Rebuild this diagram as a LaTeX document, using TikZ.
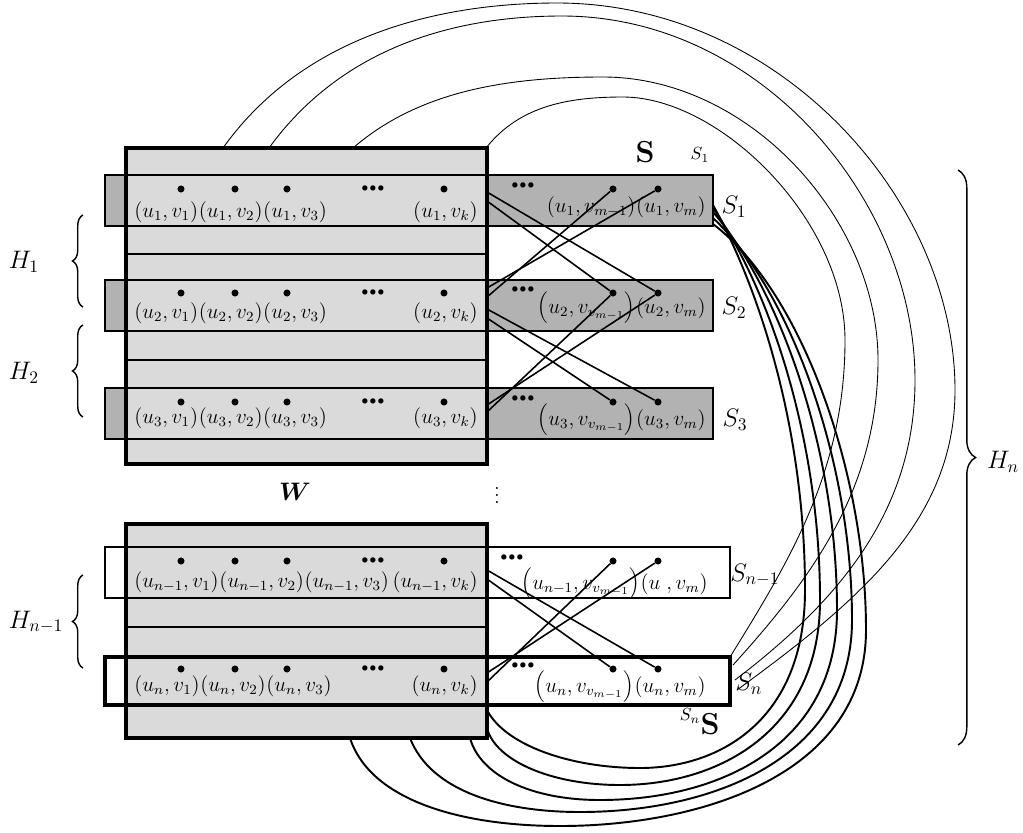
\documentclass[tikz,border=0pt]{standalone}
\usepackage{bm}
\usetikzlibrary{positioning,decorations.pathreplacing}
\definecolor{wgray}{RGB}{218,218,218}
\definecolor{sgray}{RGB}{178,178,178}
\tikzset{
  vtx/.style={circle,fill=black,inner sep=0pt,minimum size=4pt},
  pair/.style={inner sep=0pt,font=\large},
  dotsnode/.style={inner sep=0pt,font=\scriptsize},
  strip/.style={draw=black,line width=1.2pt},
  wbox/.style={draw=black,line width=2pt},
  cross/.style={line width=0.9pt},
  toparc/.style={line width=0.5pt},
  botcurve/.style={line width=1.1pt},
  hbrace/.style={decorate,decoration={brace,amplitude=#1},line width=0.8pt},
  slbl/.style={inner sep=0pt,font=\Large}
}
\begin{document}
\begin{tikzpicture}[x=0.2mm,y=-0.2mm]
\useasboundingbox (0,0) rectangle (1023,832);

% row strips
\foreach \t/\b in {175/226,280/331,388/439}
  \draw[strip,fill=sgray] (105,\t) rectangle (713,\b);
\draw[strip] (105,547) rectangle (730,598);
\draw[strip,line width=1.8pt] (105,657) rectangle (730,705);

% W blocks
\fill[wgray] (126,148) rectangle (487,464);
\fill[wgray] (126,524) rectangle (487,738);
\foreach \y in {175,226,254,280,331,360,388,439,547,598,627}
  \draw[line width=0.8pt] (126,\y) -- (487,\y);
\foreach \y in {657,705}
  \draw[line width=1.8pt] (126,\y) -- (487,\y);
\draw[wbox] (126,148) rectangle (487,464);
\draw[wbox] (126,524) rectangle (487,738);

% vertices
\foreach \r/\y/\e in {1/189/523,2/293/523,3/402/523,n1/561/512,n/669/523}{
  \node[vtx] (w\r-1) at (181,\y) {};
  \node[vtx] (w\r-2) at (235,\y) {};
  \node[vtx] (w\r-3) at (287,\y) {};
  \node[vtx] (w\r-k) at (444,\y) {};
  \node[dotsnode] (wd\r) at (373,\y) {$\bullet\!\bullet\!\bullet$};
  \node[vtx] (s\r-a) at (613,\y) {};
  \node[vtx] (s\r-b) at (658,\y) {};
  \node[dotsnode] (sd\r) at (\e,\y-3) {$\bullet\!\bullet\!\bullet$};
}

% labels in W
\foreach \r/\s/\y in {1/1/212,2/2/313,3/3/418,n1/{n-1}/582,n/n/686}{
  \node[pair,anchor=west] (lw\r-1) at (134,\y) {$\left(u_{\s},v_1\right)$};
  \node[pair,right=0pt of lw\r-1] (lw\r-2) {$\left(u_{\s},v_2\right)$};
  \node[pair,right=0pt of lw\r-2] (lw\r-3) {$\left(u_{\s},v_3\right)$};
  \node[pair,anchor=east] (lw\r-k) at (478,\y) {$\left(u_{\s},v_k\right)$};
}

% labels in S
\foreach \r/\s/\t/\y in {1/1/{m-1}/207,2/2/{v_{m-1}}/308,3/3/{v_{m-1}}/420,n/n/{v_{m-1}}/687}{
  \node[pair,anchor=east] (ls\r-b) at (706,\y) {$\left(u_{\s},v_m\right)$};
  \node[pair,left=0pt of ls\r-b] (ls\r-a) {$\left(u_{\s},v_{\t}\right)$};
}
\node[pair,anchor=east] (lsn1-b) at (708,584) {$\left(u\;,v_m\right)$};
\node[pair,left=0pt of lsn1-b] (lsn1-a) {$\left(u_{n-1},v_{v_{m-1}}\right)$};

% ends on the right edge of W
\coordinate (r1a) at (487,192);
\coordinate (r1b) at (487,201);
\coordinate (r2a) at (487,288);
\coordinate (r2b) at (487,297);
\coordinate (r2c) at (487,309);
\coordinate (r2d) at (487,318);
\coordinate (r3a) at (487,405);
\coordinate (r3b) at (487,412);
\coordinate (rn1a) at (487,570);
\coordinate (rn1b) at (487,579);
\coordinate (rna) at (487,673);
\coordinate (rnb) at (487,682);

\draw[cross] (r1a) -- (s2-b);
\draw[cross] (r1b) -- (s2-a);
\draw[cross] (r2a) -- (s1-b);
\draw[cross] (r2b) -- (s1-a);
\draw[cross] (r2c) -- (s3-b);
\draw[cross] (r2d) -- (s3-a);
\draw[cross] (r3a) -- (s2-b);
\draw[cross] (r3b) -- (s2-a);
\draw[cross] (rn1a) -- (sn-b);
\draw[cross] (rn1b) -- (sn-a);
\draw[cross] (rna) -- (sn1-b);
\draw[cross] (rnb) -- (sn1-a);

% arcs over the top, W to S_n
\coordinate (a1s) at (223,148);
\coordinate (a2s) at (269,148);
\coordinate (a3s) at (353,148);
\coordinate (a4s) at (486,148);
\coordinate (a1e) at (737,690);
\coordinate (a2e) at (735,680);
\coordinate (a3e) at (733,665);
\coordinate (a4e) at (730,657);
\draw[toparc] (a1s) .. controls (300,40) and (430,3) .. (557,3)
  .. controls (780,3) and (955,200) .. (955,390)
  .. controls (955,520) and (860,600) .. (a1e);
\draw[toparc] (a2s) .. controls (340,50) and (450,16) .. (562,16)
  .. controls (760,16) and (915,200) .. (915,380)
  .. controls (915,510) and (840,600) .. (a2e);
\draw[toparc] (a3s) .. controls (420,90) and (510,77) .. (603,77)
  .. controls (750,77) and (878,220) .. (878,360)
  .. controls (878,490) and (810,580) .. (a3e);
\draw[toparc] (a4s) .. controls (520,105) and (570,97) .. (623,97)
  .. controls (720,97) and (845,220) .. (845,340)
  .. controls (845,470) and (790,560) .. (a4e);

% curves under the bottom, S_1 to W
\coordinate (t1) at (713,205);
\coordinate (t2) at (713,208);
\coordinate (t3) at (713,212);
\coordinate (t4) at (713,218);
\coordinate (t5) at (713,224);
\coordinate (b1) at (487,710);
\coordinate (b2) at (487,728);
\coordinate (b3) at (470,738);
\coordinate (b4) at (410,738);
\coordinate (b5) at (350,738);
\draw[botcurve] (t1) .. controls (760,290) and (805,430) .. (805,590)
  .. controls (805,720) and (720,768) .. (640,768)
  .. controls (570,768) and (505,745) .. (b1);
\draw[botcurve] (t2) .. controls (770,290) and (820,440) .. (820,600)
  .. controls (820,730) and (720,785) .. (620,785)
  .. controls (550,785) and (495,760) .. (b2);
\draw[botcurve] (t3) .. controls (780,290) and (837,450) .. (837,610)
  .. controls (837,745) and (720,800) .. (600,800)
  .. controls (530,800) and (480,775) .. (b3);
\draw[botcurve] (t4) .. controls (790,290) and (852,460) .. (852,620)
  .. controls (852,760) and (710,812) .. (580,812)
  .. controls (500,812) and (430,790) .. (b4);
\draw[botcurve] (t5) .. controls (800,290) and (866,470) .. (866,630)
  .. controls (866,775) and (700,826) .. (560,826)
  .. controls (460,826) and (370,800) .. (b5);

% braces
\draw[hbrace=6pt] (83,307) -- (83,215);
\draw[hbrace=6pt] (83,417) -- (83,325);
\draw[hbrace=6pt] (83,668) -- (83,575);
\draw[hbrace=10pt] (958,170) -- (958,745);
\node[slbl] (h1) at (24,262) {$H_1$};
\node[slbl] (h2) at (24,373) {$H_2$};
\node[slbl] (hn1) at (36,622) {$H_{n-1}$};
\node[slbl] (hn) at (1003,462) {$H_n$};

% names
\node[font=\Large] (wname) at (295,492) {$\bm{W}$};
\node[font=\large] (vdots) at (497,490) {$\vdots$};
\node[font=\LARGE] (stop) at (645,152) {$\mathbf{S}$};
\node[font=\normalsize] (s1top) at (700,155) {$S_1$};
\node[font=\LARGE] (sbot) at (710,724) {$\mathbf{S}$};
\node[font=\normalsize] (snbot) at (690,716) {$S_n$};
\node[slbl] (S1) at (734,207) {$S_1$};
\node[slbl] (S2) at (734,308) {$S_2$};
\node[slbl] (S3) at (735,420) {$S_3$};
\node[slbl] (Sn1) at (755,575) {$S_{n-1}$};
\node[slbl] (Sn) at (749,684) {$S_n$};
\end{tikzpicture}
\end{document}
